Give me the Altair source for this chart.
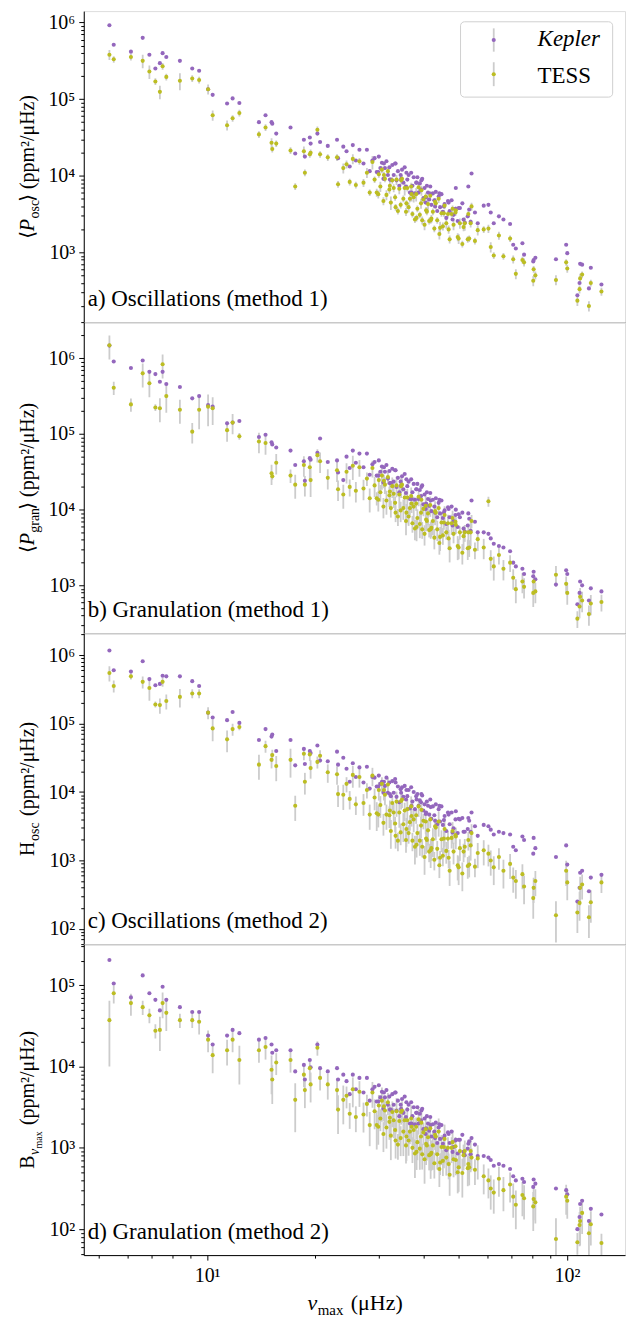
import altair as alt
import pandas as pd

# ---------------- data ----------------
# nu_max of each star (muHz); same stars in every panel
numax = [
    5.35, 5.50, 6.14, 6.62, 6.91, 7.18, 7.39, 7.52, 7.70, 8.40, 9.09, 9.50, 10.06, 10.36, 11.36, 11.77, 12.29,
    13.93, 14.53, 15.10, 15.56, 15.17, 17.05, 17.57, 18.57, 18.69, 19.29, 19.39, 20.25, 20.60, 21.64, 22.96, 23.11, 23.90,
    26.5, 27.2, 27.8, 28.3, 28.8, 29.2, 29.6, 30.0, 30.3, 30.6,
    30.9, 31.2, 31.5, 31.8, 32.1, 32.4, 32.7, 33.0, 33.3, 33.6,
    33.9, 34.2, 34.5, 34.8, 35.1, 35.4, 35.7, 36.0, 36.3, 36.6,
    36.9, 37.2, 37.5, 37.8, 38.1, 38.4, 38.7, 39.0, 39.3, 39.6,
    39.9, 40.2, 40.5, 40.8, 41.1, 41.4, 41.7, 42.0, 42.4, 42.8,
    43.2, 43.6, 44.0, 44.4, 44.8, 45.2, 45.7, 46.2, 46.7, 47.2,
    47.8, 48.4, 49.0, 49.7, 50.4, 51.2, 52.0, 53.0, 54.0, 55.5,
    29.9, 31.0, 32.2, 33.4, 34.6, 35.8, 37.0, 38.2, 39.4, 40.6,
    41.8, 43.0, 44.2, 45.5, 46.9, 48.1, 50.0, 51.6, 53.5, 56.5,
    24.4, 24.9, 25.4, 25.9,
    49.1, 53.2, 54.3, 58.7, 60.5, 61.4, 62.6, 64.7, 66.6, 69.5, 70.9, 72.1, 75.2, 76.0, 80.8, 80.6, 81.7,
    93.2, 99.5, 100.2, 108.8, 110.2, 106.9, 108.4, 116.5, 115.1, 124.7,
]

# power values, given as log10(ppm^2/muHz)
log_kep_a = [
    5.965, 5.71, 5.62, 5.80, 5.58, 5.40, 5.47, 5.60, 5.55, 5.50, 5.40, 5.37, 5.13, 5.056, 4.944, 5.01, 4.95,
    4.70, 4.79, 4.70, 4.55, 4.68, 4.63, 4.29, 4.47, 4.25, 4.50, 4.42, 4.55, 4.44, 4.39, 4.47, 4.23, 4.38,
    4.34, 4.16, 4.34, 4.06, 4.20, 4.23, 4.05, 4.25, 4.10, 4.17,
    3.96, 4.10, 4.19, 4.01, 4.11, 3.95, 4.14, 4.01, 4.16, 3.94,
    4.06, 3.87, 4.01, 4.08, 3.91, 4.11, 3.86, 3.95, 4.01, 3.78,
    4.04, 3.87, 3.98, 3.77, 3.91, 3.98, 3.78, 3.90, 3.82, 3.96,
    3.71, 3.84, 3.65, 3.87, 3.78, 3.69, 3.86, 3.62, 3.77, 3.68,
    3.79, 3.54, 3.73, 3.59, 3.76, 3.53, 3.63, 3.45, 3.67, 3.54,
    3.68, 3.49, 3.57, 3.41, 3.58, 3.64, 3.39, 3.47, 3.40, 3.52,
    4.05, 4.16, 3.95, 4.16, 3.96, 4.04, 3.78, 3.91, 3.94, 3.72,
    3.76, 3.60, 3.77, 3.60, 3.65, 3.43, 3.58, 3.43, 3.56, 3.38,
    4.32, 4.12, 4.40, 4.20,
    3.84, 3.86, 4.03, 3.61, 3.62, 3.52, 3.38, 3.47, 3.43, 3.37, 3.10, 3.05, 3.12, 2.97, 2.90, 2.88, 2.93,
    2.91, 3.10, 2.99, 2.85, 2.84, 2.44, 2.60, 2.80, 2.53, 2.58,
]
log_tess_a = [
    5.58, 5.52, 5.55, 5.50, 5.36, 5.23, 5.095, 5.43, 5.29, 5.24, 5.27, 5.25, 5.13, 4.79, 4.66, 4.75, 4.82,
    4.54, 4.63, 4.43, 4.42, 4.35, 4.33, 3.86, 4.32, 4.04, 4.28, 4.30, 4.60, 4.28, 4.24, 4.24, 3.89, 4.10,
    4.19, 3.91, 4.04, 3.78, 4.18, 3.95, 3.78, 4.02, 3.86, 4.08,
    3.67, 3.96, 3.75, 4.06, 3.82, 3.65, 3.94, 3.84, 3.72, 3.95,
    3.54, 3.83, 3.62, 3.96, 3.70, 3.84, 3.53, 3.84, 3.59, 3.70,
    3.86, 3.50, 3.72, 3.43, 3.76, 3.57, 3.85, 3.49, 3.64, 3.42,
    3.69, 3.36, 3.73, 3.53, 3.63, 3.41, 3.74, 3.44, 3.53, 3.31,
    3.64, 3.42, 3.70, 3.32, 3.51, 3.34, 3.61, 3.38, 3.50, 3.17,
    3.50, 3.36, 3.52, 3.20, 3.38, 3.11, 3.38, 3.17, 3.38, 3.15,
    3.76, 4.01, 3.87, 3.59, 3.94, 3.64, 3.76, 3.45, 3.81, 3.55,
    3.42, 3.66, 3.24, 3.51, 3.30, 3.57, 3.18, 3.33, 3.18, 3.29,
    4.15, 3.92, 4.22, 3.88,
    3.55, 3.50, 3.60, 3.30, 3.31, 3.07, 2.96, 3.22, 2.95, 3.18, 2.91, 2.72, 2.90, 2.87, 2.78, 2.63, 2.70,
    2.64, 2.87, 2.79, 2.66, 2.71, 2.37, 2.52, 2.60, 2.30, 2.49,
]
log_kep_b = [
    6.167, 5.957, 5.87, 5.97, 5.82, 5.79, 5.69, 5.82, 5.66, 5.62, 5.47, 5.50, 5.38, 5.36, 5.14, 5.15, 5.17,
    4.96, 4.99, 4.89, 4.82, 4.86, 4.78, 4.59, 4.64, 4.38, 4.68, 4.66, 4.75, 4.94, 4.63, 4.65, 4.49, 4.39,
    4.74, 4.56, 4.74, 4.46, 4.60, 4.63, 4.45, 4.65, 4.50, 4.57,
    4.36, 4.50, 4.59, 4.41, 4.51, 4.35, 4.54, 4.37, 4.52, 4.30,
    4.42, 4.23, 4.37, 4.44, 4.27, 4.47, 4.22, 4.31, 4.37, 4.14,
    4.40, 4.23, 4.34, 4.13, 4.27, 4.34, 4.14, 4.26, 4.18, 4.32,
    4.07, 4.20, 4.01, 4.23, 4.14, 4.05, 4.22, 3.98, 4.13, 4.04,
    4.15, 3.90, 4.09, 3.95, 4.12, 3.89, 3.99, 3.81, 4.03, 3.90,
    4.04, 3.85, 3.93, 3.77, 3.90, 3.96, 3.71, 3.79, 3.72, 3.84,
    4.45, 4.56, 4.35, 4.52, 4.32, 4.40, 4.14, 4.27, 4.30, 4.08,
    4.12, 3.96, 4.13, 3.96, 4.01, 3.79, 3.94, 3.75, 3.88, 3.70,
    4.70, 4.55, 4.78, 4.62,
    4.00, 3.95, 4.12, 3.70, 3.68, 3.62, 3.55, 3.52, 3.50, 3.45, 3.30, 3.25, 3.22, 3.15, 3.18, 3.12, 3.08,
    3.01, 3.20, 3.15, 3.05, 3.00, 2.75, 2.90, 2.96, 2.80, 2.92,
]
log_tess_b = [
    6.17, 5.61, 5.39, 5.80, 5.67, 5.35, 5.34, 5.92, 5.50, 5.32, 5.03, 5.32, 5.36, 5.34, 5.05, 5.15, 4.97,
    4.90, 4.88, 4.48, 4.62, 4.44, 4.45, 4.33, 4.59, 4.33, 4.56, 4.39, 4.72, 4.64, 4.42, 4.52, 4.27, 4.20,
    4.56, 4.28, 4.41, 4.15, 4.55, 4.32, 4.15, 4.39, 4.23, 4.45,
    4.04, 4.33, 4.12, 4.43, 4.19, 4.02, 4.31, 4.21, 4.09, 4.32,
    3.91, 4.20, 3.99, 4.33, 4.02, 4.16, 3.85, 4.16, 3.91, 4.02,
    4.18, 3.82, 4.04, 3.75, 4.08, 3.89, 4.17, 3.81, 3.96, 3.74,
    4.01, 3.68, 4.05, 3.85, 3.95, 3.73, 4.06, 3.76, 3.85, 3.63,
    3.96, 3.74, 4.02, 3.64, 3.83, 3.66, 3.93, 3.70, 3.82, 3.49,
    3.82, 3.68, 3.84, 3.52, 3.70, 3.43, 3.70, 3.49, 3.70, 3.47,
    4.13, 4.38, 4.24, 3.96, 4.31, 3.96, 4.08, 3.77, 4.13, 3.87,
    3.74, 3.98, 3.56, 3.83, 3.62, 3.89, 3.50, 3.65, 3.50, 3.61,
    4.50, 4.30, 4.58, 4.25,
    3.80, 3.70, 3.85, 3.50, 4.11, 3.35, 3.25, 3.40, 3.22, 3.30, 3.10, 2.95, 3.05, 2.98, 3.05, 2.90, 2.92,
    3.14, 3.02, 2.90, 2.85, 2.80, 2.56, 2.72, 2.76, 2.62, 2.78,
]
log_kep_c = [
    6.068, 5.78, 5.76, 5.91, 5.65, 5.56, 5.58, 5.70, 5.69, 5.69, 5.62, 5.55, 5.16, 5.09, 5.05, 5.17, 5.01,
    4.76, 4.92, 4.81, 4.60, 4.84, 4.76, 4.39, 4.63, 4.41, 4.60, 4.57, 4.68, 4.46, 4.45, 4.59, 4.40, 4.50,
    4.36, 4.14, 4.37, 4.05, 4.22, 4.21, 4.08, 4.24, 4.12, 4.15,
    3.99, 4.09, 4.21, 3.99, 4.14, 3.94, 4.16, 3.99, 4.19, 3.93,
    4.08, 3.85, 4.04, 4.07, 3.93, 4.09, 3.89, 3.94, 4.03, 3.76,
    4.07, 3.86, 4.00, 3.75, 3.94, 3.97, 3.80, 3.88, 3.85, 3.95,
    3.73, 3.82, 3.68, 3.86, 3.80, 3.67, 3.89, 3.61, 3.79, 3.66,
    3.82, 3.53, 3.75, 3.57, 3.79, 3.52, 3.65, 3.43, 3.70, 3.53,
    3.70, 3.47, 3.60, 3.40, 3.60, 3.62, 3.42, 3.46, 3.42, 3.50,
    4.08, 4.15, 3.97, 4.14, 3.99, 4.03, 3.80, 3.89, 3.97, 3.70,
    3.78, 3.58, 3.80, 3.59, 3.67, 3.41, 3.61, 3.42, 3.58, 3.36,
    4.34, 4.15, 4.42, 4.22,
    3.72, 3.62, 3.70, 3.52, 3.50, 3.45, 3.38, 3.42, 3.40, 3.38, 3.20, 3.15, 3.35, 3.30, 3.33, 3.10, 3.18,
    3.05, 3.22, 2.94, 2.82, 2.85, 2.40, 2.60, 2.75, 2.55, 2.79,
]
log_tess_c = [
    5.74, 5.55, 5.69, 5.61, 5.52, 5.28, 5.27, 5.61, 5.33, 5.39, 5.44, 5.44, 5.16, 4.93, 4.77, 4.92, 4.95,
    4.40, 4.67, 4.47, 4.38, 4.54, 4.47, 3.80, 4.56, 4.15, 4.55, 4.35, 4.44, 4.53, 4.29, 4.26, 3.97, 3.96,
    4.22, 3.84, 4.03, 3.67, 4.24, 3.92, 3.69, 4.03, 3.81, 4.12,
    3.55, 3.96, 3.67, 4.11, 3.66, 3.43, 3.84, 3.70, 3.54, 3.86,
    3.29, 3.70, 3.41, 3.89, 3.53, 3.73, 3.30, 3.75, 3.40, 3.56,
    3.79, 3.29, 3.60, 3.20, 3.66, 3.40, 3.79, 3.29, 3.51, 3.20,
    3.58, 3.05, 3.57, 3.30, 3.44, 3.13, 3.60, 3.18, 3.31, 3.01,
    3.48, 3.17, 3.57, 3.04, 3.31, 3.07, 3.46, 3.14, 3.32, 2.85,
    3.33, 3.13, 3.37, 2.93, 3.18, 2.81, 3.20, 2.92, 3.22, 2.91,
    3.67, 4.03, 3.73, 3.36, 3.87, 3.46, 3.65, 3.23, 3.74, 3.32,
    3.15, 3.50, 2.93, 3.32, 3.04, 3.43, 2.90, 3.13, 2.94, 3.11,
    4.12, 3.90, 4.25, 3.82,
    3.35, 3.30, 3.40, 3.15, 3.10, 3.00, 2.90, 3.05, 2.85, 2.95, 2.75, 2.70, 2.80, 2.62, 2.60, 2.45, 2.70,
    2.20, 2.85, 2.68, 2.60, 2.65, 2.24, 2.38, 2.39, 2.17, 2.68,
]
log_kep_d = [
    5.31, 5.02, 4.85, 5.12, 4.90, 4.82, 4.69, 4.98, 4.82, 4.73, 4.67, 4.67, 4.38, 4.27, 4.38, 4.45, 4.41,
    4.33, 4.35, 4.27, 4.20, 4.17, 4.20, 3.94, 4.02, 3.84, 4.08, 3.99, 4.27, 3.98, 3.94, 3.98, 3.84, 3.90,
    3.86, 3.68, 3.86, 3.58, 3.72, 3.75, 3.57, 3.77, 3.62, 3.69,
    3.48, 3.62, 3.71, 3.53, 3.63, 3.47, 3.66, 3.53, 3.68, 3.46,
    3.58, 3.39, 3.53, 3.60, 3.43, 3.63, 3.38, 3.47, 3.53, 3.30,
    3.56, 3.39, 3.50, 3.29, 3.43, 3.50, 3.30, 3.42, 3.34, 3.48,
    3.23, 3.36, 3.17, 3.39, 3.30, 3.21, 3.38, 3.14, 3.29, 3.20,
    3.31, 3.06, 3.25, 3.11, 3.28, 3.05, 3.15, 2.97, 3.19, 3.06,
    3.20, 3.01, 3.09, 2.93, 3.10, 3.16, 2.91, 2.99, 2.92, 3.04,
    3.57, 3.68, 3.47, 3.68, 3.48, 3.56, 3.30, 3.43, 3.46, 3.24,
    3.28, 3.12, 3.29, 3.12, 3.17, 2.95, 3.10, 2.95, 3.08, 2.90,
    3.82, 3.66, 3.90, 3.72,
    3.10, 3.05, 3.12, 2.90, 2.88, 2.85, 2.78, 2.80, 2.78, 2.74, 2.65, 2.60, 2.62, 2.58, 2.61, 2.52, 2.56,
    2.50, 2.48, 2.43, 2.31, 2.35, 2.00, 2.15, 2.25, 2.10, 2.18,
]
log_tess_d = [
    4.57, 4.90, 4.78, 4.73, 4.63, 4.44, 4.45, 4.78, 4.66, 4.57, 4.57, 4.55, 4.33, 4.14, 4.20, 4.33, 4.08,
    4.20, 4.24, 3.96, 4.05, 3.84, 4.08, 3.59, 3.90, 3.71, 3.98, 3.78, 4.23, 3.86, 3.78, 3.71, 3.47, 3.59,
    3.69, 3.41, 3.54, 3.28, 3.68, 3.45, 3.28, 3.52, 3.36, 3.58,
    3.17, 3.46, 3.25, 3.56, 3.32, 3.15, 3.44, 3.34, 3.22, 3.45,
    3.04, 3.33, 3.12, 3.46, 3.20, 3.34, 3.03, 3.34, 3.09, 3.20,
    3.36, 3.00, 3.22, 2.93, 3.26, 3.07, 3.35, 2.99, 3.14, 2.92,
    3.19, 2.86, 3.23, 3.03, 3.13, 2.91, 3.24, 2.94, 3.03, 2.81,
    3.14, 2.92, 3.20, 2.82, 3.01, 2.84, 3.11, 2.88, 3.00, 2.67,
    3.00, 2.86, 3.02, 2.70, 2.96, 2.69, 2.96, 2.75, 2.96, 2.73,
    3.26, 3.51, 3.37, 3.09, 3.44, 3.14, 3.26, 2.95, 3.31, 3.05,
    2.92, 3.16, 2.74, 3.01, 2.80, 3.07, 2.76, 2.91, 2.76, 2.87,
    3.64, 3.42, 3.72, 3.38,
    2.85, 2.80, 2.88, 2.65, 2.60, 2.50, 2.45, 2.62, 2.48, 2.55, 2.40, 2.30, 2.42, 2.38, 2.37, 2.28, 2.33,
    1.88, 2.40, 2.35, 2.10, 2.20, 1.84, 2.05, 2.06, 1.95, 1.83,
]

# relative 1-sigma error of the TESS values
err_a = [
    0.15, 0.1, 0.1, 0.2, 0.2, 0.1, 0.2, 0.1, 0.1, 0.25, 0.1, 0.1, 0.15, 0.15, 0.15, 0.1, 0.1,
    0.1, 0.1, 0.15, 0.1, 0.1, 0.1, 0.1, 0.15, 0.1, 0.1, 0.1, 0.1, 0.1, 0.1, 0.1, 0.1, 0.15,
    0.1, 0.12, 0.15, 0.1, 0.2, 0.1, 0.12, 0.1, 0.15, 0.1,
    0.12, 0.1, 0.15, 0.1, 0.12, 0.2, 0.1, 0.12, 0.1, 0.15,
    0.1, 0.15, 0.1, 0.12, 0.1, 0.2, 0.12, 0.1, 0.15, 0.1,
    0.12, 0.1, 0.15, 0.1, 0.2, 0.1, 0.12, 0.1, 0.15, 0.12,
    0.1, 0.15, 0.12, 0.1, 0.2, 0.1, 0.15, 0.12, 0.1, 0.1,
    0.15, 0.1, 0.12, 0.2, 0.1, 0.12, 0.1, 0.15, 0.1, 0.12,
    0.1, 0.15, 0.1, 0.12, 0.15, 0.1, 0.2, 0.1, 0.12, 0.1,
    0.12, 0.1, 0.15, 0.1, 0.12, 0.1, 0.2, 0.1, 0.15, 0.1,
    0.1, 0.12, 0.15, 0.1, 0.12, 0.1, 0.15, 0.12, 0.1, 0.15,
    0.12, 0.1, 0.15, 0.1,
    0.12, 0.1, 0.12, 0.1, 0.12, 0.15, 0.1, 0.12, 0.1, 0.1, 0.12, 0.15, 0.1, 0.12, 0.1, 0.15, 0.12,
    0.15, 0.1, 0.12, 0.15, 0.1, 0.15, 0.12, 0.1, 0.15, 0.12,
]
err_b = [
    0.35, 0.2, 0.2, 0.35, 0.35, 0.1, 0.35, 0.35, 0.4, 0.35, 0.3, 0.45, 0.45, 0.4, 0.3, 0.3, 0.1,
    0.3, 0.3, 0.3, 0.3, 0.1, 0.2, 0.35, 0.3, 0.3, 0.3, 0.4, 0.2, 0.3, 0.3, 0.3, 0.3, 0.35,
    0.25, 0.3, 0.2, 0.35, 0.25, 0.3, 0.2, 0.3, 0.25, 0.35,
    0.3, 0.25, 0.35, 0.2, 0.3, 0.25, 0.3, 0.35, 0.2, 0.3,
    0.25, 0.35, 0.3, 0.2, 0.3, 0.25, 0.35, 0.3, 0.25, 0.2,
    0.3, 0.25, 0.35, 0.3, 0.2, 0.3, 0.25, 0.35, 0.3, 0.25,
    0.2, 0.3, 0.35, 0.25, 0.3, 0.2, 0.3, 0.25, 0.35, 0.3,
    0.25, 0.3, 0.2, 0.35, 0.3, 0.25, 0.3, 0.2, 0.3, 0.35,
    0.3, 0.25, 0.3, 0.35, 0.2, 0.3, 0.25, 0.3, 0.35, 0.25,
    0.3, 0.2, 0.35, 0.25, 0.3, 0.3, 0.25, 0.35, 0.2, 0.3,
    0.25, 0.35, 0.3, 0.2, 0.3, 0.25, 0.3, 0.35, 0.25, 0.3,
    0.3, 0.25, 0.35, 0.3,
    0.25, 0.3, 0.2, 0.3, 0.15, 0.3, 0.35, 0.25, 0.3, 0.25, 0.3, 0.35, 0.3, 0.3, 0.25, 0.35, 0.3,
    0.3, 0.25, 0.3, 0.3, 0.3, 0.25, 0.3, 0.3, 0.3, 0.25,
]
err_c = [
    0.25, 0.2, 0.1, 0.2, 0.35, 0.1, 0.25, 0.15, 0.25, 0.3, 0.15, 0.15, 0.2, 0.35, 0.35, 0.2, 0.1,
    0.4, 0.2, 0.25, 0.4, 0.2, 0.45, 0.4, 0.2, 0.35, 0.2, 0.3, 0.2, 0.2, 0.3, 0.3, 0.35, 0.4,
    0.3, 0.35, 0.25, 0.4, 0.3, 0.35, 0.45, 0.3, 0.35, 0.25,
    0.35, 0.3, 0.4, 0.25, 0.35, 0.45, 0.3, 0.35, 0.25, 0.4,
    0.3, 0.4, 0.35, 0.25, 0.45, 0.3, 0.35, 0.4, 0.3, 0.25,
    0.4, 0.3, 0.35, 0.45, 0.25, 0.35, 0.3, 0.4, 0.35, 0.3,
    0.25, 0.45, 0.35, 0.3, 0.4, 0.3, 0.25, 0.35, 0.45, 0.3,
    0.35, 0.3, 0.4, 0.25, 0.35, 0.3, 0.45, 0.35, 0.3, 0.4,
    0.3, 0.35, 0.25, 0.4, 0.35, 0.45, 0.3, 0.35, 0.4, 0.3,
    0.35, 0.3, 0.4, 0.35, 0.25, 0.45, 0.3, 0.35, 0.3, 0.4,
    0.45, 0.3, 0.35, 0.4, 0.3, 0.35, 0.45, 0.3, 0.35, 0.4,
    0.25, 0.3, 0.35, 0.3,
    0.35, 0.3, 0.35, 0.4, 0.35, 0.4, 0.45, 0.35, 0.45, 0.4, 0.4, 0.45, 0.4, 0.45, 0.4, 0.5, 0.4,
    0.6, 0.4, 0.45, 0.45, 0.4, 0.5, 0.45, 0.5, 0.5, 0.3,
]
err_d = [
    0.73, 0.25, 0.3, 0.2, 0.2, 0.2, 0.45, 0.35, 0.4, 0.2, 0.2, 0.3, 0.3, 0.4, 0.35, 0.3, 0.5,
    0.3, 0.3, 0.5, 0.3, 0.5, 0.3, 0.6, 0.3, 0.4, 0.3, 0.4, 0.2, 0.3, 0.35, 0.4, 0.5, 0.5,
    0.35, 0.4, 0.3, 0.45, 0.35, 0.4, 0.5, 0.35, 0.3, 0.45,
    0.4, 0.35, 0.45, 0.3, 0.4, 0.5, 0.35, 0.4, 0.3, 0.45,
    0.35, 0.45, 0.4, 0.3, 0.5, 0.35, 0.4, 0.45, 0.35, 0.3,
    0.45, 0.35, 0.4, 0.5, 0.3, 0.4, 0.35, 0.45, 0.4, 0.35,
    0.3, 0.5, 0.4, 0.35, 0.45, 0.35, 0.3, 0.4, 0.5, 0.35,
    0.4, 0.35, 0.45, 0.3, 0.4, 0.35, 0.5, 0.4, 0.35, 0.45,
    0.35, 0.4, 0.3, 0.45, 0.4, 0.5, 0.35, 0.4, 0.45, 0.35,
    0.4, 0.35, 0.45, 0.4, 0.3, 0.5, 0.35, 0.4, 0.35, 0.45,
    0.5, 0.35, 0.4, 0.45, 0.35, 0.4, 0.5, 0.35, 0.4, 0.45,
    0.3, 0.35, 0.4, 0.35,
    0.35, 0.35, 0.3, 0.4, 0.4, 0.45, 0.45, 0.4, 0.45, 0.4, 0.45, 0.5, 0.45, 0.45, 0.45, 0.5, 0.45,
    0.8, 0.4, 0.4, 0.5, 0.45, 0.3, 0.45, 0.45, 0.5, 0.3,
]

panel_labels = ["a) Oscillations (method 1)", "b) Granulation (method 1)",
                "c) Oscillations (method 2)", "d) Granulation (method 2)"]
legend_labels = ["Kepler", "TESS"]
x_domain = [4.54, 145.0]
y_domains = [[123.0, 1.41e6], [234.0, 3.0e6], [60.0, 2.1e6], [48.0, 3.2e5]]

# ---------------- styling ----------------
FONT = "'Liberation Serif', 'Times New Roman', Tinos, 'DejaVu Serif', 'Noto Serif', FreeSerif, serif"
KEP = "#9467bd"
TES = "#bcbd22"
ERRC = "#cccccc"
W, H = 543, 312
DOT = 17

IS_MAJOR = "abs(log(datum.value)/LN10 - round(log(datum.value)/LN10)) < 0.001"
LABEL_EXPR = ("(" + IS_MAJOR + ") ? '10' + ['\u2070','\u00b9','\u00b2','\u00b3','\u2074','\u2075','\u2076','\u2077']"
              "[round(log(datum.value)/LN10)] : ''")
TICK_SIZE = {"condition": {"test": IS_MAJOR, "value": 5}, "value": 3}


def log_ticks(lo, hi):
    out = []
    for k in range(0, 8):
        for m in range(1, 10):
            v = m * 10 ** k
            if lo <= v <= hi:
                out.append(v)
    return out


# approximate advance widths (em/1000), only used to place the composed titles
WID = {' ': 250, '(': 333, ')': 333, '/': 278, 'p': 520, 'm': 800, 'H': 722, 'z': 444,
       '\u00b2': 300, 'o': 520, 's': 400, 'c': 450, 'g': 500, 'r': 340, 'a': 470, 'n': 520,
       'x': 480, 'B': 667, 'P': 600, '\u03bc': 520, '\u03bd': 470, '\u27e8': 390, '\u27e9': 390}


def text_w(s, size):
    return sum(WID.get(ch, 500) for ch in s) / 1000.0 * size


def composite(heads, subs, tail, gap, x, y, angle):
    """heads: pieces right-aligned backwards from a junction; subs: pieces placed forward
    from the junction; tail: rest of the title, left-aligned `gap` px after the subscripts."""
    one = pd.DataFrame({"t": [0]})
    total = (sum(text_w(t, s) for t, s, st in heads) + sum(text_w(t, s) for t, s, st, dy in subs)
             + gap + text_w(tail[0], tail[1]))
    junction = -total / 2.0 + sum(text_w(t, s) for t, s, st in heads)
    layers = []
    pos = junction
    for t, s, st in heads:
        layers.append(alt.Chart(one).mark_text(
            font=FONT, fontSize=s, fontStyle=st, color="black", angle=angle,
            align="right", baseline="alphabetic", dx=pos, dy=0,
        ).encode(x=alt.value(x), y=alt.value(y), text=alt.value(t)))
        pos -= text_w(t, s)
    pos = junction + 0.5
    for t, s, st, dy in subs:
        layers.append(alt.Chart(one).mark_text(
            font=FONT, fontSize=s, fontStyle=st, color="black", angle=angle,
            align="left", baseline="alphabetic", dx=pos, dy=dy,
        ).encode(x=alt.value(x), y=alt.value(y), text=alt.value(t)))
        pos += text_w(t, s)
    layers.append(alt.Chart(one).mark_text(
        font=FONT, fontSize=tail[1], fontStyle=tail[2], color="black", angle=angle,
        align="left", baseline="alphabetic", dx=pos + gap, dy=0,
    ).encode(x=alt.value(x), y=alt.value(y), text=alt.value(tail[0])))
    return layers


MU = "\u03bc"
NU = "\u03bd"
UNIT = "(ppm\u00b2/" + MU + "Hz)"
# (heads, subscripts, tail, gap before tail)
y_titles = [
    ([("P", 20, "italic"), ("\u27e8", 20, "normal")], [("osc", 14, "normal", 5)],
     ("\u27e9 " + UNIT, 20, "normal"), -2.5),
    ([("P", 20, "italic"), ("\u27e8", 20, "normal")], [("gran", 14, "normal", 5)],
     ("\u27e9 " + UNIT, 20, "normal"), -2.5),
    ([("H", 20, "normal")], [("osc", 14, "normal", 5)], (UNIT, 20, "normal"), 6),
    ([("B", 20, "normal")], [(NU, 14, "italic", 5), ("max", 10, "normal", 8)], (UNIT, 20, "normal"), 6),
]
x_title = ([(NU, 22, "italic")], [("max", 15, "normal", 5)], ("(" + MU + "Hz)", 22, "normal"), 7)

series = [
    (log_kep_a, log_tess_a, err_a),
    (log_kep_b, log_tess_b, err_b),
    (log_kep_c, log_tess_c, err_c),
    (log_kep_d, log_tess_d, err_d),
]


def make_panel(i):
    lk, lt, err = series[i]
    kep = [10 ** v for v in lk]
    tess = [10 ** v for v in lt]
    lo_d, hi_d = y_domains[i]
    df = pd.DataFrame({
        "numax": numax, "kep": kep, "tess": tess,
        "lo": [t * (1 - e) for t, e in zip(tess, err)],
        "hi": [t * (1 + e) for t, e in zip(tess, err)],
    })
    bottom = (i == 3)
    xs = alt.Scale(type="log", domain=x_domain, nice=False)
    ys = alt.Scale(type="log", domain=[lo_d, hi_d], nice=False)
    if bottom:
        xaxis = alt.Axis(values=log_ticks(*x_domain), labelExpr=LABEL_EXPR, tickSize=TICK_SIZE,
                         labelFont=FONT, labelFontSize=20, labelColor="black", labelPadding=5,
                         labelOverlap=False, labelFlush=False, tickColor="black", domainColor="black",
                         grid=False, title=None)
    else:
        xaxis = alt.Axis(labels=False, ticks=False, domainColor="black", grid=False, title=None)
    yaxis = alt.Axis(values=log_ticks(lo_d, hi_d), labelExpr=LABEL_EXPR, tickSize=TICK_SIZE,
                     labelFont=FONT, labelFontSize=20, labelColor="black", labelPadding=4,
                     labelOverlap=False, labelFlush=False, tickColor="black", domainColor="black",
                     grid=False, title=None)
    X = alt.X("numax:Q", scale=xs, axis=xaxis)
    base = alt.Chart(df)
    errs = base.mark_rule(color=ERRC, strokeWidth=1.8, clip=True).encode(
        x=X, y=alt.Y("lo:Q", scale=ys, axis=yaxis), y2="hi:Q")
    kp = base.mark_circle(size=DOT, color=KEP, opacity=1).encode(
        x=X, y=alt.Y("kep:Q", scale=ys, axis=yaxis))
    tp = base.mark_circle(size=DOT, color=TES, opacity=1).encode(
        x=X, y=alt.Y("tess:Q", scale=ys, axis=yaxis))
    one = pd.DataFrame({"t": [0]})
    lab = alt.Chart(one).mark_text(font=FONT, fontSize=23, color="black", align="left",
                                   baseline="alphabetic").encode(
        x=alt.value(4), y=alt.value(H - 16), text=alt.value(panel_labels[i]))
    heads, subs, tail, gap = y_titles[i]
    layers = [errs, kp, tp, lab] + composite(heads, subs, tail, gap, -50, H / 2.0, 270)
    if bottom:
        xh, xsub, xt, xgap = x_title
        layers += composite(xh, xsub, xt, xgap, W / 2.0, H + 55, 0)
    if i == 0:
        box = alt.Chart(one).mark_rect(fill="white", stroke="#d0d0d0", strokeWidth=1,
                                       cornerRadius=4).encode(
            x=alt.value(378), x2=alt.value(530.6), y=alt.value(10.7), y2=alt.value(86.3))
        lk_bar = alt.Chart(one).mark_rule(color=ERRC, strokeWidth=1.8).encode(
            x=alt.value(411.3), y=alt.value(17.3), y2=alt.value(40.7))
        lt_bar = alt.Chart(one).mark_rule(color=ERRC, strokeWidth=1.8).encode(
            x=alt.value(411.3), y=alt.value(51.3), y2=alt.value(75.3))
        lk_dot = alt.Chart(one).mark_circle(size=DOT, color=KEP, opacity=1).encode(
            x=alt.value(411.3), y=alt.value(29))
        lt_dot = alt.Chart(one).mark_circle(size=DOT, color=TES, opacity=1).encode(
            x=alt.value(411.3), y=alt.value(63.3))
        lk_txt = alt.Chart(one).mark_text(font=FONT, fontSize=23, fontStyle="italic", color="black",
                                          align="left", baseline="alphabetic").encode(
            x=alt.value(455.3), y=alt.value(35.5), text=alt.value(legend_labels[0]))
        lt_txt = alt.Chart(one).mark_text(font=FONT, fontSize=23, color="black",
                                          align="left", baseline="alphabetic").encode(
            x=alt.value(455.3), y=alt.value(72), text=alt.value(legend_labels[1]))
        layers += [box, lk_bar, lt_bar, lk_dot, lt_dot, lk_txt, lt_txt]
    return alt.layer(*layers).properties(width=W, height=H)


panels = [make_panel(i) for i in range(4)]

chart = alt.vconcat(*panels, spacing=0, bounds="flush").properties(
    padding={"left": 9, "right": 4, "top": 0, "bottom": 0}
).configure_view(stroke="black", strokeWidth=1).configure(background="white")

chart.save("out.html", embed_options={"renderer": "svg", "actions": False})
